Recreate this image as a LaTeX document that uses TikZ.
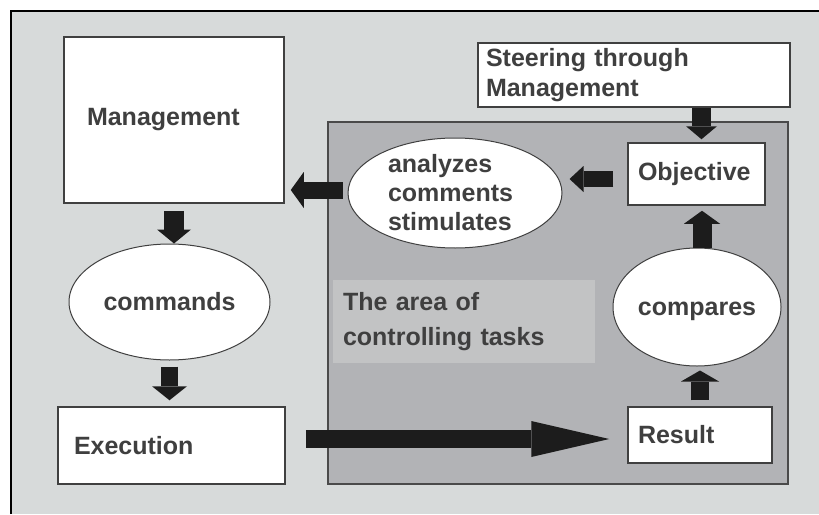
\documentclass[tikz,border=0pt]{standalone}
\usepackage{fontspec}
\setmainfont{Liberation Sans}
\usetikzlibrary{shapes.geometric,arrows.meta,calc}

\definecolor{paper}{HTML}{D7DADA}
\definecolor{zonegray}{HTML}{B2B3B6}
\definecolor{zoneline}{HTML}{4A4A4A}
\definecolor{labelgray}{HTML}{C2C3C4}
\definecolor{linegray}{HTML}{404040}
\definecolor{txtgray}{HTML}{3F3F3F}
\definecolor{arrowblack}{HTML}{1C1C1C}

\begin{document}
\begin{tikzpicture}[x=1pt, y=-1pt,
    box/.style={draw=linegray, line width=1.5pt, fill=white, inner sep=0pt,
    align=left, text=txtgray, font=\fontsize{25}{30}\selectfont\bfseries},
    oval/.style={ellipse, draw=linegray, line width=1pt, fill=white, inner sep=0pt,
    align=left, text=txtgray, font=\fontsize{25}{29}\selectfont\bfseries},
    zone/.style={draw=zoneline, line width=1.5pt, fill=zonegray, inner sep=0pt},
    blk/.style n args={3}{draw=arrowblack, line width=#1,
    -{Triangle[width=#2, length=#3, line width=0pt]}}
]
  \useasboundingbox (0,0) rectangle (819,514);
  \fill[paper] (11,11) rectangle (819,514);
  \draw[black, line width=2.4pt] (11,514) -- (11,11) -- (819,11);

  \node[zone, minimum width=460pt, minimum height=362pt] (ctrl) at (558,303) {};
  \node[box, draw=none, fill=labelgray, minimum width=262pt, minimum height=83pt, text width=242pt,
    font=\fontsize{25}{35}\selectfont\bfseries] (lbl) at (464,321.5) {The area of\\controlling tasks};

  \node[box, minimum width=220pt, minimum height=166pt, text width=174pt] (mgmt) at (174,120) {Management};
  \node[oval, minimum width=201pt, minimum height=116pt] (cmd) at (169.5,302) {commands};
  \node[box, minimum width=227pt, minimum height=77pt, text width=195pt] (exec) at (171.5,445.5) {Execution};
  \node[box, minimum width=312pt, minimum height=64pt, text width=296pt] (steer) at (634,75) {Steering through\\Management};
  \node[box, minimum width=137pt, minimum height=62pt, text width=117pt] (obj) at (696.5,174) {Objective};
  \node[oval, minimum width=214pt, minimum height=110pt, text width=134pt] (ana) at (455,193) {analyzes\\comments\\stimulates};
  \node[oval, minimum width=168pt, minimum height=118pt] (cmp) at (697,307) {\raisebox{-4pt}[\height][\depth]{compares}};
  \node[box, minimum width=144pt, minimum height=56pt, text width=124pt] (res) at (700,435) {Result};

  \draw[blk={20pt}{34pt}{14pt}, shorten <=7pt] (mgmt.south) -- (mgmt.south |- cmd.north);
  \draw[blk={17pt}{35pt}{14pt}, shorten <=6pt, shorten >=6pt] (cmd.south) -- (cmd.south |- exec.north);
  \draw[blk={18pt}{36pt}{78pt}, shorten <=20pt, shorten >=18pt] ($(exec.east)+(0,-6.5)$) -- ($(exec.east -| res.west)+(0,-6.5)$);
  \draw[blk={18pt}{38pt}{11pt}, shorten <=6pt, shorten >=4pt] (res.north) -- (res.north |- cmp.south);
  \draw[blk={19pt}{36pt}{13pt}, shorten >=5pt] ($(cmp.north)+(5,0)$) -- ($(cmp.north |- obj.south)+(5,0)$);
  \draw[blk={19pt}{31pt}{13pt}, shorten >=3pt] ($(obj.north |- steer.south)+(5,0)$) -- ($(obj.north)+(5,0)$);
  \draw[blk={16pt}{26pt}{14pt}, shorten <=14pt, shorten >=7pt] ($(obj.west)+(0,5)$) -- ($(obj.west -| ana.east)+(0,5)$);
  \draw[blk={17pt}{36pt}{13pt}, shorten >=6pt] ($(ana.west)+(-5,-3)$) -- ($(ana.west -| mgmt.east)+(0,-3)$);
\end{tikzpicture}
\end{document}
